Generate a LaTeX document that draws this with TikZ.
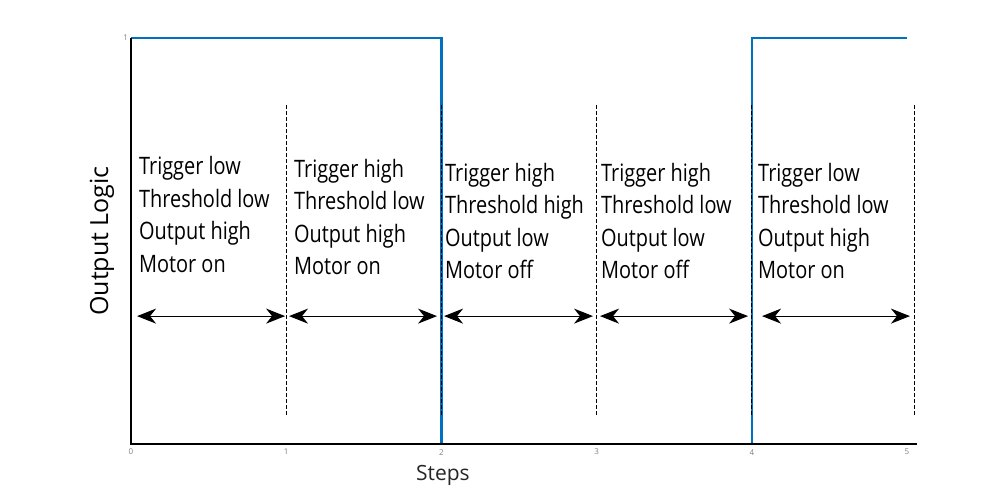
\documentclass[tikz,border=0pt]{standalone}
\usepackage{fontspec}
\setmainfont{Open Sans}
\newfontfamily\narrowfont[FakeStretch=0.83]{Open Sans}
\usepackage{xcolor}
\usetikzlibrary{arrows.meta}
\definecolor{stepblue}{RGB}{0,112,192}

\tikzset{
	state/.style={anchor=north west, inner sep=0pt, align=left, font=\narrowfont\fontsize{24}{32.5}\selectfont},
	divider/.style={dash pattern=on 4pt off 2pt, line width=1pt},
	span/.style={{Stealth[length=19pt,width=15pt,inset=6pt]}-{Stealth[length=19pt,width=15pt,inset=6pt]}, line width=1.2pt},
	ticklabel/.style={text=gray, font=\fontsize{8}{8}\selectfont, inner sep=0pt}
}

\begin{document}
\begin{tikzpicture}[x=155.2pt, y=406pt]
	\useasboundingbox (-0.844,-0.1355) rectangle (5.612,1.0936);

	% output signal
	\coordinate (o) at (0,0);
	\coordinate (ytop) at (0,1);
	\coordinate (s1) at (2,1);
	\coordinate (s2) at (2,0);
	\coordinate (s3) at (4,0);
	\coordinate (s4) at (4,1);
	\coordinate (s5) at (5,1);
	\draw[stepblue, line width=2.4pt] (ytop) -- (s1) -- (s2) -- (s3) -- (s4) -- (s5);

	% axes
	\coordinate (xend) at (5.064,0);
	\draw[line width=2pt] (ytop) -- (o) -- (xend);

	% step borders
	\coordinate (d1t) at (1,0.835);
	\coordinate (d1b) at (1,0.071);
	\coordinate (d2t) at (2,0.835);
	\coordinate (d2b) at (2,0.071);
	\coordinate (d3t) at (3,0.835);
	\coordinate (d3b) at (3,0.071);
	\coordinate (d4t) at (4,0.835);
	\coordinate (d4b) at (4,0.071);
	\coordinate (d5t) at (5.05,0.835);
	\coordinate (d5b) at (5.05,0.071);
	\draw[divider] (d1t) -- (d1b);
	\draw[divider] (d2t) -- (d2b);
	\draw[divider] (d3t) -- (d3b);
	\draw[divider] (d4t) -- (d4b);
	\draw[divider] (d5t) -- (d5b);

	% states
	\node[state] at (0.051,0.709) (st1) {Trigger low\\Threshold low\\Output high\\Motor on};
	\node[state] at (1.05,0.702) (st2) {Trigger high\\Threshold low\\Output high\\Motor on};
	\node[state] at (2.023,0.692) (st3) {Trigger high\\Threshold high\\Output low\\Motor off};
	\node[state] at (3.028,0.692) (st4) {Trigger high\\Threshold low\\Output low\\Motor off};
	\node[state] at (4.04,0.692) (st5) {Trigger low\\Threshold low\\Output high\\Motor on};

	% spans
	\coordinate (a1l) at (0.039,0.315);
	\coordinate (a1r) at (0.993,0.315);
	\coordinate (a2l) at (1.018,0.315);
	\coordinate (a2r) at (1.972,0.315);
	\coordinate (a3l) at (2.017,0.315);
	\coordinate (a3r) at (2.977,0.315);
	\coordinate (a4l) at (3.022,0.315);
	\coordinate (a4r) at (3.976,0.315);
	\coordinate (a5l) at (4.066,0.315);
	\coordinate (a5r) at (5.019,0.315);
	\draw[span] (a1l) to (a1r);
	\draw[span] (a2l) to (a2r);
	\draw[span] (a3l) to (a3r);
	\draw[span] (a4l) to (a4r);
	\draw[span] (a5l) to (a5r);

	% tick labels
	\node[ticklabel, anchor=east] at (-0.019,1) (y1) {1};
	\node[ticklabel] at (0,-0.02) (x0) {0};
	\node[ticklabel] at (1,-0.02) (x1) {1};
	\node[ticklabel] at (2,-0.02) (x2) {2};
	\node[ticklabel] at (3,-0.02) (x3) {3};
	\node[ticklabel] at (4,-0.02) (x4) {4};
	\node[ticklabel] at (5,-0.02) (x5) {5};

	% axis titles
	\node[anchor=base, font=\fontsize{21}{21}\selectfont, text=black!85] at (2.01,-0.091) (xtitle) {Steps};
	\node[anchor=base, rotate=90, font=\fontsize{25}{25}\selectfont] at (-0.148,0.5) (ytitle) {Output Logic};
\end{tikzpicture}
\end{document}
